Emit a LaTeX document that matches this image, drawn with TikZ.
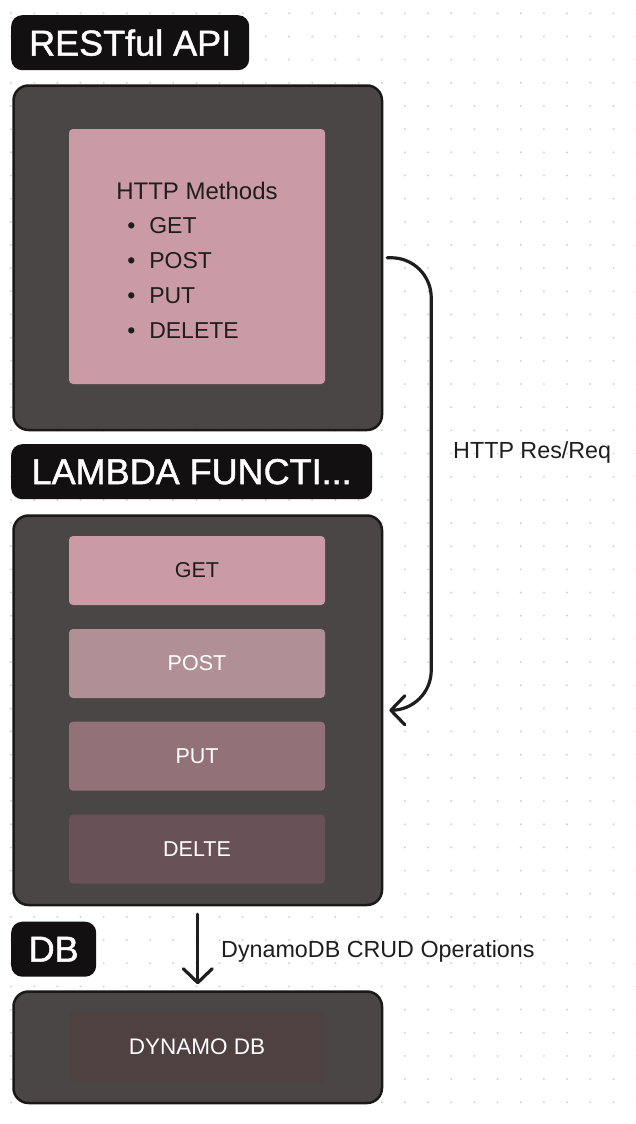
\documentclass[tikz,border=0pt]{standalone}
\usepackage{fontspec}
\setmainfont{Liberation Sans}[BoldFont=Liberation Sans, BoldFeatures={FakeBold=1.3}]
\usetikzlibrary{arrows.meta}
\definecolor{bgdot}{HTML}{D2D2D2}
\definecolor{titlebg}{HTML}{121010}
\definecolor{boxbg}{HTML}{4A4646}
\definecolor{boxline}{HTML}{1A1818}
\definecolor{pinkA}{HTML}{CA9BA6}
\definecolor{pinkB}{HTML}{B18F96}
\definecolor{pinkC}{HTML}{927179}
\definecolor{pinkD}{HTML}{685257}
\definecolor{dbfill}{HTML}{4F4041}
\definecolor{ink}{HTML}{1E1E1E}
\begin{document}
\begin{tikzpicture}[x=1pt,y=-1pt,
  titlebox/.style={fill=titlebg, text=white, rounded corners=11pt, minimum height=55pt,
    inner sep=0pt, anchor=north west, font=\fontsize{36pt}{40pt}\selectfont\bfseries},
  bigbox/.style={draw=boxline, line width=2.5pt, fill=boxbg, rounded corners=15pt,
    minimum width=368.5pt, anchor=north west, inner sep=0pt},
  innerbox/.style={rounded corners=4pt, minimum width=256pt, inner sep=0pt,
    font=\fontsize{21.5pt}{26pt}\selectfont},
  conn/.style={draw=ink, line width=3.2pt, line cap=round, line join=round,
    -{Straight Barb[length=14pt,width=29pt,round]}},
  lbl/.style={text=ink, inner sep=0pt, anchor=base west, font=\fontsize{23.3pt}{28pt}\selectfont}
]
\useasboundingbox (0,0) rectangle (636,1124);
\fill[white] (0,0) rectangle (636,1124);
\foreach \i in {0,...,27}{
  \foreach \j in {0,...,48}{
    \fill[bgdot] (11+\i*23.17, 13.3+\j*23.17) circle (1.1pt);
  }
}
% titles
\node[titlebox, minimum width=238pt] (t1) at (11,15) {RESTful API};
\node[titlebox, minimum width=361pt] (t2) at (11,444) {LAMBDA FUNCTI...};
\node[titlebox, minimum width=85pt] (t3) at (11,921.5) {DB};
% big boxes
\node[bigbox, minimum height=344.5pt] (box1) at (12.25,84.25) {};
\node[bigbox, minimum height=389.5pt] (box2) at (12.25,514.25) {};
\node[bigbox, minimum height=111.5pt] (box3) at (12.25,990.25) {};
% inner boxes
\node[innerbox, fill=pinkA, minimum height=255pt] (methods) at (197,256.5) {};
\node[text=ink, align=left, inner sep=0pt, font=\fontsize{23pt}{34.75pt}\selectfont]
  (methodsText) at (197,260) {{\fontsize{24pt}{34.75pt}\selectfont HTTP Methods}\\
  \hspace*{11pt}\makebox[22pt][l]{•}GET\\
  \hspace*{11pt}\makebox[22pt][l]{•}POST\\
  \hspace*{11pt}\makebox[22pt][l]{•}PUT\\
  \hspace*{11pt}\makebox[22pt][l]{•}DELETE};
\node[innerbox, fill=pinkA, text=ink, minimum height=69pt] (get) at (197,570.5) {GET};
\node[innerbox, fill=pinkB, text=white, minimum height=69pt] (post) at (197,663.5) {POST};
\node[innerbox, fill=pinkC, text=white, minimum height=69pt] (put) at (197,756.2) {PUT};
\node[innerbox, fill=pinkD, text=white, minimum height=69pt] (delte) at (197,849) {DELTE};
\node[innerbox, fill=dbfill, text=white, minimum height=70pt,
  font=\fontsize{22.5pt}{26pt}\selectfont] (dynamo) at (197,1046.7) {DYNAMO DB};
% connectors
\draw[conn, rounded corners=40pt] ([xshift=4pt]box1.east) -- ++(44,0) |- ([xshift=6pt]box2.east);
\node[lbl] (resreq) at (453,458) {HTTP Res/Req};
\draw[conn, shorten <=8pt, shorten >=6pt] (box2.south) -- (box3.north);
\node[lbl] (crud) at (221,957) {DynamoDB CRUD Operations};
\end{tikzpicture}
\end{document}
